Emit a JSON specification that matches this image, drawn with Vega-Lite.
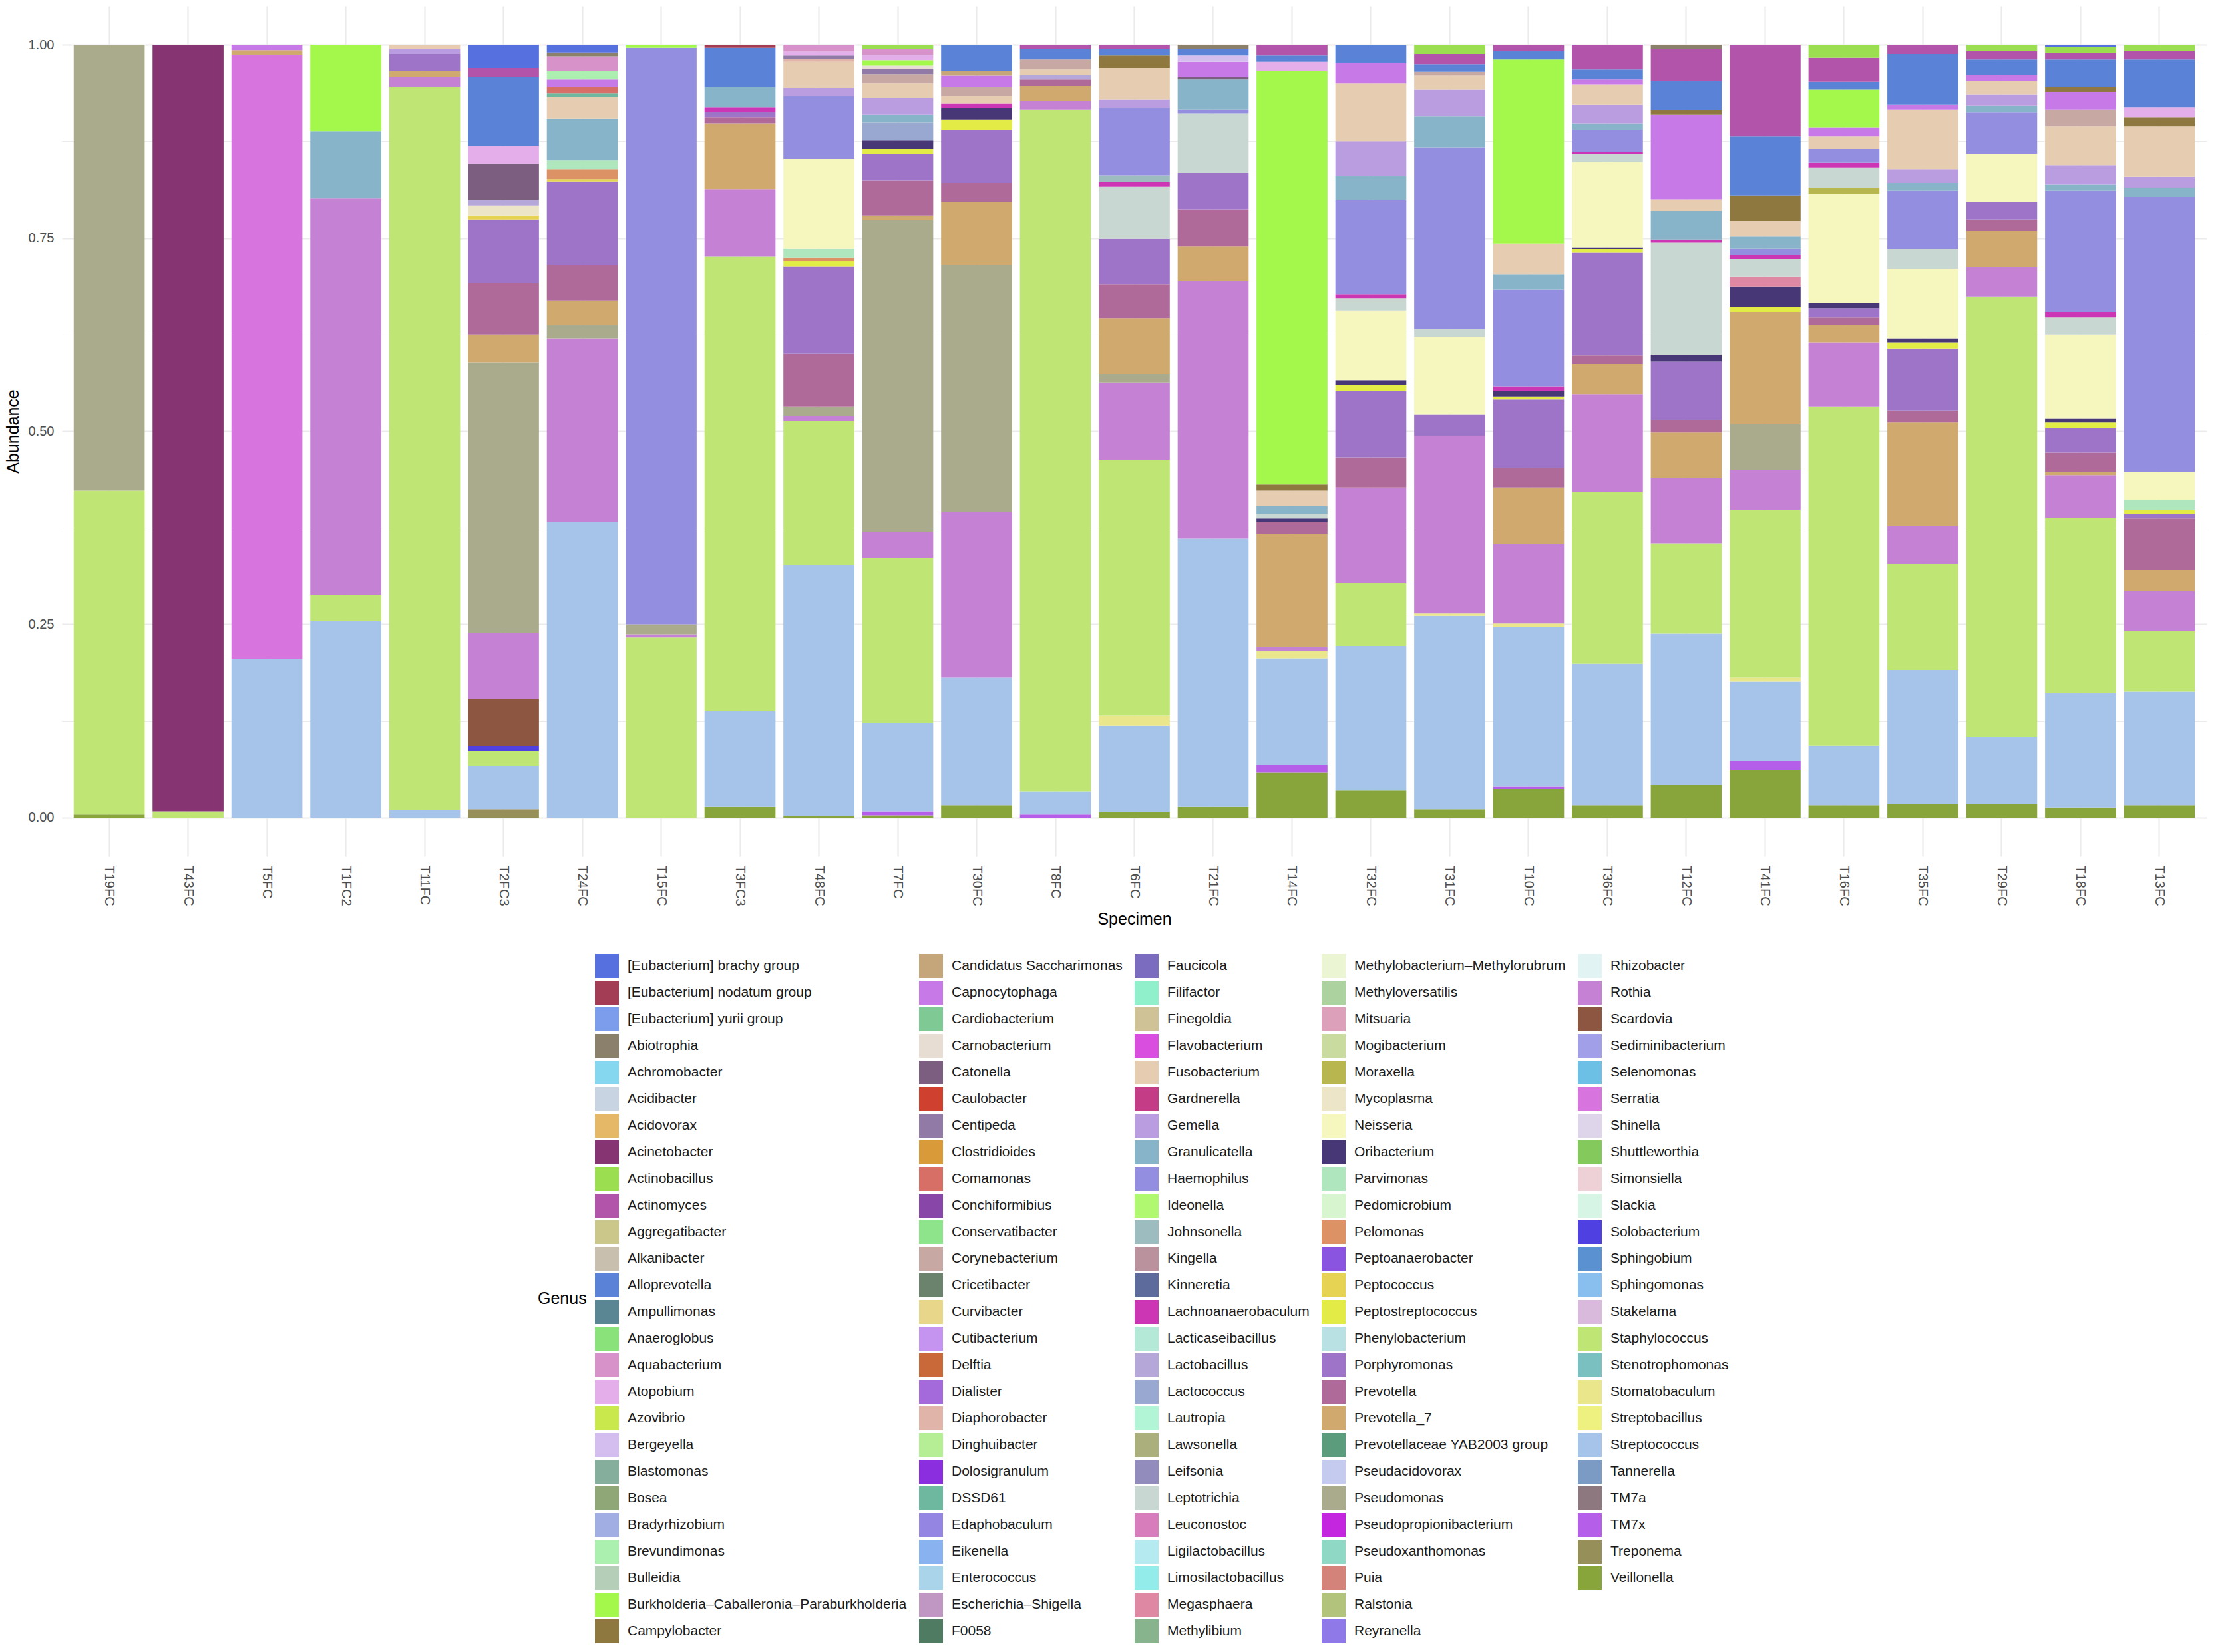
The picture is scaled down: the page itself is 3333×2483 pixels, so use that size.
{
  "$schema": "https://vega.github.io/schema/vega-lite/v6.json",
  "width": 3223,
  "height": 1278,
  "autosize": {"type": "none"},
  "padding": {"left": 93, "top": 9, "right": 17, "bottom": 1196},
  "background": "white",
  "config": {"view": {"stroke": null}, "font": "Liberation Sans"},
  "data": {"values": [
    {"Specimen": "T19FC", "Genus": "Veillonella", "Abundance": 0.004},
    {"Specimen": "T19FC", "Genus": "Staphylococcus", "Abundance": 0.419},
    {"Specimen": "T19FC", "Genus": "Pseudomonas", "Abundance": 0.577},

    {"Specimen": "T43FC", "Genus": "Staphylococcus", "Abundance": 0.008},
    {"Specimen": "T43FC", "Genus": "Acinetobacter", "Abundance": 0.992},

    {"Specimen": "T5FC", "Genus": "Streptococcus", "Abundance": 0.205},
    {"Specimen": "T5FC", "Genus": "Serratia", "Abundance": 0.782},
    {"Specimen": "T5FC", "Genus": "Prevotella_7", "Abundance": 0.006},
    {"Specimen": "T5FC", "Genus": "Capnocytophaga", "Abundance": 0.007},

    {"Specimen": "T1FC2", "Genus": "Streptococcus", "Abundance": 0.254},
    {"Specimen": "T1FC2", "Genus": "Staphylococcus", "Abundance": 0.034},
    {"Specimen": "T1FC2", "Genus": "Rothia", "Abundance": 0.513},
    {"Specimen": "T1FC2", "Genus": "Granulicatella", "Abundance": 0.087},
    {"Specimen": "T1FC2", "Genus": "Burkholderia–Caballeronia–Paraburkholderia", "Abundance": 0.112},

    {"Specimen": "T11FC", "Genus": "Streptococcus", "Abundance": 0.010},
    {"Specimen": "T11FC", "Genus": "Staphylococcus", "Abundance": 0.935},
    {"Specimen": "T11FC", "Genus": "Rothia", "Abundance": 0.013},
    {"Specimen": "T11FC", "Genus": "Prevotella_7", "Abundance": 0.008},
    {"Specimen": "T11FC", "Genus": "Porphyromonas", "Abundance": 0.022},
    {"Specimen": "T11FC", "Genus": "Fusobacterium", "Abundance": 0.006},
    {"Specimen": "T11FC", "Genus": "Gemella", "Abundance": 0.006},

    {"Specimen": "T2FC3", "Genus": "Treponema", "Abundance": 0.011},
    {"Specimen": "T2FC3", "Genus": "Streptococcus", "Abundance": 0.056},
    {"Specimen": "T2FC3", "Genus": "Staphylococcus", "Abundance": 0.019},
    {"Specimen": "T2FC3", "Genus": "Solobacterium", "Abundance": 0.006},
    {"Specimen": "T2FC3", "Genus": "Scardovia", "Abundance": 0.062},
    {"Specimen": "T2FC3", "Genus": "Rothia", "Abundance": 0.085},
    {"Specimen": "T2FC3", "Genus": "Pseudomonas", "Abundance": 0.350},
    {"Specimen": "T2FC3", "Genus": "Prevotella_7", "Abundance": 0.036},
    {"Specimen": "T2FC3", "Genus": "Prevotella", "Abundance": 0.066},
    {"Specimen": "T2FC3", "Genus": "Porphyromonas", "Abundance": 0.083},
    {"Specimen": "T2FC3", "Genus": "Peptococcus", "Abundance": 0.005},
    {"Specimen": "T2FC3", "Genus": "Mycoplasma", "Abundance": 0.013},
    {"Specimen": "T2FC3", "Genus": "Lactobacillus", "Abundance": 0.007},
    {"Specimen": "T2FC3", "Genus": "Catonella", "Abundance": 0.047},
    {"Specimen": "T2FC3", "Genus": "Atopobium", "Abundance": 0.023},
    {"Specimen": "T2FC3", "Genus": "Alloprevotella", "Abundance": 0.089},
    {"Specimen": "T2FC3", "Genus": "Actinomyces", "Abundance": 0.012},
    {"Specimen": "T2FC3", "Genus": "[Eubacterium] brachy group", "Abundance": 0.030},

    {"Specimen": "T24FC", "Genus": "Streptococcus", "Abundance": 0.383},
    {"Specimen": "T24FC", "Genus": "Rothia", "Abundance": 0.237},
    {"Specimen": "T24FC", "Genus": "Pseudomonas", "Abundance": 0.017},
    {"Specimen": "T24FC", "Genus": "Prevotella_7", "Abundance": 0.032},
    {"Specimen": "T24FC", "Genus": "Prevotella", "Abundance": 0.046},
    {"Specimen": "T24FC", "Genus": "Porphyromonas", "Abundance": 0.108},
    {"Specimen": "T24FC", "Genus": "Peptococcus", "Abundance": 0.003},
    {"Specimen": "T24FC", "Genus": "Pelomonas", "Abundance": 0.013},
    {"Specimen": "T24FC", "Genus": "Parvimonas", "Abundance": 0.011},
    {"Specimen": "T24FC", "Genus": "Granulicatella", "Abundance": 0.054},
    {"Specimen": "T24FC", "Genus": "Fusobacterium", "Abundance": 0.028},
    {"Specimen": "T24FC", "Genus": "DSSD61", "Abundance": 0.005},
    {"Specimen": "T24FC", "Genus": "Comamonas", "Abundance": 0.008},
    {"Specimen": "T24FC", "Genus": "Capnocytophaga", "Abundance": 0.010},
    {"Specimen": "T24FC", "Genus": "Brevundimonas", "Abundance": 0.011},
    {"Specimen": "T24FC", "Genus": "Aquabacterium", "Abundance": 0.019},
    {"Specimen": "T24FC", "Genus": "Abiotrophia", "Abundance": 0.005},
    {"Specimen": "T24FC", "Genus": "[Eubacterium] brachy group", "Abundance": 0.010},

    {"Specimen": "T15FC", "Genus": "Staphylococcus", "Abundance": 0.233},
    {"Specimen": "T15FC", "Genus": "Rothia", "Abundance": 0.004},
    {"Specimen": "T15FC", "Genus": "Pseudomonas", "Abundance": 0.013},
    {"Specimen": "T15FC", "Genus": "Haemophilus", "Abundance": 0.746},
    {"Specimen": "T15FC", "Genus": "Burkholderia–Caballeronia–Paraburkholderia", "Abundance": 0.004},

    {"Specimen": "T3FC3", "Genus": "Veillonella", "Abundance": 0.014},
    {"Specimen": "T3FC3", "Genus": "Streptococcus", "Abundance": 0.124},
    {"Specimen": "T3FC3", "Genus": "Staphylococcus", "Abundance": 0.588},
    {"Specimen": "T3FC3", "Genus": "Rothia", "Abundance": 0.087},
    {"Specimen": "T3FC3", "Genus": "Prevotella_7", "Abundance": 0.085},
    {"Specimen": "T3FC3", "Genus": "Prevotella", "Abundance": 0.008},
    {"Specimen": "T3FC3", "Genus": "Porphyromonas", "Abundance": 0.007},
    {"Specimen": "T3FC3", "Genus": "Lachnoanaerobaculum", "Abundance": 0.006},
    {"Specimen": "T3FC3", "Genus": "Granulicatella", "Abundance": 0.026},
    {"Specimen": "T3FC3", "Genus": "Alloprevotella", "Abundance": 0.051},
    {"Specimen": "T3FC3", "Genus": "[Eubacterium] nodatum group", "Abundance": 0.004},

    {"Specimen": "T48FC", "Genus": "Veillonella", "Abundance": 0.002},
    {"Specimen": "T48FC", "Genus": "Streptococcus", "Abundance": 0.325},
    {"Specimen": "T48FC", "Genus": "Staphylococcus", "Abundance": 0.186},
    {"Specimen": "T48FC", "Genus": "Rothia", "Abundance": 0.006},
    {"Specimen": "T48FC", "Genus": "Pseudomonas", "Abundance": 0.013},
    {"Specimen": "T48FC", "Genus": "Prevotella", "Abundance": 0.068},
    {"Specimen": "T48FC", "Genus": "Porphyromonas", "Abundance": 0.113},
    {"Specimen": "T48FC", "Genus": "Peptostreptococcus", "Abundance": 0.007},
    {"Specimen": "T48FC", "Genus": "Pelomonas", "Abundance": 0.004},
    {"Specimen": "T48FC", "Genus": "Parvimonas", "Abundance": 0.012},
    {"Specimen": "T48FC", "Genus": "Neisseria", "Abundance": 0.116},
    {"Specimen": "T48FC", "Genus": "Haemophilus", "Abundance": 0.081},
    {"Specimen": "T48FC", "Genus": "Gemella", "Abundance": 0.011},
    {"Specimen": "T48FC", "Genus": "Fusobacterium", "Abundance": 0.034},
    {"Specimen": "T48FC", "Genus": "Diaphorobacter", "Abundance": 0.004},
    {"Specimen": "T48FC", "Genus": "Centipeda", "Abundance": 0.004},
    {"Specimen": "T48FC", "Genus": "Atopobium", "Abundance": 0.005},
    {"Specimen": "T48FC", "Genus": "Aquabacterium", "Abundance": 0.009},

    {"Specimen": "T7FC", "Genus": "Veillonella", "Abundance": 0.003},
    {"Specimen": "T7FC", "Genus": "TM7x", "Abundance": 0.005},
    {"Specimen": "T7FC", "Genus": "Streptococcus", "Abundance": 0.115},
    {"Specimen": "T7FC", "Genus": "Staphylococcus", "Abundance": 0.213},
    {"Specimen": "T7FC", "Genus": "Rothia", "Abundance": 0.034},
    {"Specimen": "T7FC", "Genus": "Pseudomonas", "Abundance": 0.403},
    {"Specimen": "T7FC", "Genus": "Prevotella_7", "Abundance": 0.006},
    {"Specimen": "T7FC", "Genus": "Prevotella", "Abundance": 0.045},
    {"Specimen": "T7FC", "Genus": "Porphyromonas", "Abundance": 0.034},
    {"Specimen": "T7FC", "Genus": "Peptostreptococcus", "Abundance": 0.007},
    {"Specimen": "T7FC", "Genus": "Oribacterium", "Abundance": 0.011},
    {"Specimen": "T7FC", "Genus": "Lactococcus", "Abundance": 0.023},
    {"Specimen": "T7FC", "Genus": "Granulicatella", "Abundance": 0.010},
    {"Specimen": "T7FC", "Genus": "Gemella", "Abundance": 0.022},
    {"Specimen": "T7FC", "Genus": "Fusobacterium", "Abundance": 0.019},
    {"Specimen": "T7FC", "Genus": "Corynebacterium", "Abundance": 0.012},
    {"Specimen": "T7FC", "Genus": "Centipeda", "Abundance": 0.007},
    {"Specimen": "T7FC", "Genus": "Carnobacterium", "Abundance": 0.004},
    {"Specimen": "T7FC", "Genus": "Burkholderia–Caballeronia–Paraburkholderia", "Abundance": 0.007},
    {"Specimen": "T7FC", "Genus": "Atopobium", "Abundance": 0.007},
    {"Specimen": "T7FC", "Genus": "Aquabacterium", "Abundance": 0.007},
    {"Specimen": "T7FC", "Genus": "Actinobacillus", "Abundance": 0.006},

    {"Specimen": "T30FC", "Genus": "Veillonella", "Abundance": 0.016},
    {"Specimen": "T30FC", "Genus": "Streptococcus", "Abundance": 0.165},
    {"Specimen": "T30FC", "Genus": "Rothia", "Abundance": 0.214},
    {"Specimen": "T30FC", "Genus": "Pseudomonas", "Abundance": 0.320},
    {"Specimen": "T30FC", "Genus": "Prevotella_7", "Abundance": 0.082},
    {"Specimen": "T30FC", "Genus": "Prevotella", "Abundance": 0.024},
    {"Specimen": "T30FC", "Genus": "Porphyromonas", "Abundance": 0.069},
    {"Specimen": "T30FC", "Genus": "Peptostreptococcus", "Abundance": 0.013},
    {"Specimen": "T30FC", "Genus": "Oribacterium", "Abundance": 0.015},
    {"Specimen": "T30FC", "Genus": "Lachnoanaerobaculum", "Abundance": 0.006},
    {"Specimen": "T30FC", "Genus": "Fusobacterium", "Abundance": 0.009},
    {"Specimen": "T30FC", "Genus": "Corynebacterium", "Abundance": 0.012},
    {"Specimen": "T30FC", "Genus": "Capnocytophaga", "Abundance": 0.015},
    {"Specimen": "T30FC", "Genus": "Candidatus Saccharimonas", "Abundance": 0.006},
    {"Specimen": "T30FC", "Genus": "Alloprevotella", "Abundance": 0.034},

    {"Specimen": "T8FC", "Genus": "TM7x", "Abundance": 0.004},
    {"Specimen": "T8FC", "Genus": "Streptococcus", "Abundance": 0.030},
    {"Specimen": "T8FC", "Genus": "Staphylococcus", "Abundance": 0.882},
    {"Specimen": "T8FC", "Genus": "Rothia", "Abundance": 0.011},
    {"Specimen": "T8FC", "Genus": "Prevotella_7", "Abundance": 0.019},
    {"Specimen": "T8FC", "Genus": "Prevotella", "Abundance": 0.009},
    {"Specimen": "T8FC", "Genus": "Lactobacillus", "Abundance": 0.006},
    {"Specimen": "T8FC", "Genus": "Fusobacterium", "Abundance": 0.007},
    {"Specimen": "T8FC", "Genus": "Corynebacterium", "Abundance": 0.013},
    {"Specimen": "T8FC", "Genus": "Alloprevotella", "Abundance": 0.013},
    {"Specimen": "T8FC", "Genus": "Actinomyces", "Abundance": 0.006},

    {"Specimen": "T6FC", "Genus": "Veillonella", "Abundance": 0.007},
    {"Specimen": "T6FC", "Genus": "Streptococcus", "Abundance": 0.112},
    {"Specimen": "T6FC", "Genus": "Stomatobaculum", "Abundance": 0.013},
    {"Specimen": "T6FC", "Genus": "Staphylococcus", "Abundance": 0.331},
    {"Specimen": "T6FC", "Genus": "Rothia", "Abundance": 0.100},
    {"Specimen": "T6FC", "Genus": "Pseudomonas", "Abundance": 0.011},
    {"Specimen": "T6FC", "Genus": "Prevotella_7", "Abundance": 0.072},
    {"Specimen": "T6FC", "Genus": "Prevotella", "Abundance": 0.044},
    {"Specimen": "T6FC", "Genus": "Porphyromonas", "Abundance": 0.059},
    {"Specimen": "T6FC", "Genus": "Leptotrichia", "Abundance": 0.067},
    {"Specimen": "T6FC", "Genus": "Lachnoanaerobaculum", "Abundance": 0.006},
    {"Specimen": "T6FC", "Genus": "Johnsonella", "Abundance": 0.009},
    {"Specimen": "T6FC", "Genus": "Haemophilus", "Abundance": 0.087},
    {"Specimen": "T6FC", "Genus": "Gemella", "Abundance": 0.011},
    {"Specimen": "T6FC", "Genus": "Fusobacterium", "Abundance": 0.041},
    {"Specimen": "T6FC", "Genus": "Campylobacter", "Abundance": 0.016},
    {"Specimen": "T6FC", "Genus": "Alloprevotella", "Abundance": 0.008},
    {"Specimen": "T6FC", "Genus": "Actinomyces", "Abundance": 0.006},

    {"Specimen": "T21FC", "Genus": "Veillonella", "Abundance": 0.014},
    {"Specimen": "T21FC", "Genus": "Streptococcus", "Abundance": 0.347},
    {"Specimen": "T21FC", "Genus": "Rothia", "Abundance": 0.333},
    {"Specimen": "T21FC", "Genus": "Prevotella_7", "Abundance": 0.045},
    {"Specimen": "T21FC", "Genus": "Prevotella", "Abundance": 0.048},
    {"Specimen": "T21FC", "Genus": "Porphyromonas", "Abundance": 0.047},
    {"Specimen": "T21FC", "Genus": "Leptotrichia", "Abundance": 0.077},
    {"Specimen": "T21FC", "Genus": "Haemophilus", "Abundance": 0.005},
    {"Specimen": "T21FC", "Genus": "Granulicatella", "Abundance": 0.039},
    {"Specimen": "T21FC", "Genus": "Catonella", "Abundance": 0.003},
    {"Specimen": "T21FC", "Genus": "Capnocytophaga", "Abundance": 0.020},
    {"Specimen": "T21FC", "Genus": "Bergeyella", "Abundance": 0.008},
    {"Specimen": "T21FC", "Genus": "Alloprevotella", "Abundance": 0.008},
    {"Specimen": "T21FC", "Genus": "Abiotrophia", "Abundance": 0.006},

    {"Specimen": "T14FC", "Genus": "Veillonella", "Abundance": 0.058},
    {"Specimen": "T14FC", "Genus": "TM7x", "Abundance": 0.010},
    {"Specimen": "T14FC", "Genus": "Streptococcus", "Abundance": 0.138},
    {"Specimen": "T14FC", "Genus": "Stomatobaculum", "Abundance": 0.009},
    {"Specimen": "T14FC", "Genus": "Rothia", "Abundance": 0.006},
    {"Specimen": "T14FC", "Genus": "Prevotella_7", "Abundance": 0.146},
    {"Specimen": "T14FC", "Genus": "Prevotella", "Abundance": 0.015},
    {"Specimen": "T14FC", "Genus": "Oribacterium", "Abundance": 0.005},
    {"Specimen": "T14FC", "Genus": "Leptotrichia", "Abundance": 0.006},
    {"Specimen": "T14FC", "Genus": "Granulicatella", "Abundance": 0.010},
    {"Specimen": "T14FC", "Genus": "Fusobacterium", "Abundance": 0.020},
    {"Specimen": "T14FC", "Genus": "Campylobacter", "Abundance": 0.008},
    {"Specimen": "T14FC", "Genus": "Burkholderia–Caballeronia–Paraburkholderia", "Abundance": 0.535},
    {"Specimen": "T14FC", "Genus": "Atopobium", "Abundance": 0.012},
    {"Specimen": "T14FC", "Genus": "Alloprevotella", "Abundance": 0.008},
    {"Specimen": "T14FC", "Genus": "Actinomyces", "Abundance": 0.014},

    {"Specimen": "T32FC", "Genus": "Veillonella", "Abundance": 0.035},
    {"Specimen": "T32FC", "Genus": "Streptococcus", "Abundance": 0.187},
    {"Specimen": "T32FC", "Genus": "Staphylococcus", "Abundance": 0.081},
    {"Specimen": "T32FC", "Genus": "Rothia", "Abundance": 0.124},
    {"Specimen": "T32FC", "Genus": "Prevotella", "Abundance": 0.039},
    {"Specimen": "T32FC", "Genus": "Porphyromonas", "Abundance": 0.086},
    {"Specimen": "T32FC", "Genus": "Peptostreptococcus", "Abundance": 0.008},
    {"Specimen": "T32FC", "Genus": "Oribacterium", "Abundance": 0.006},
    {"Specimen": "T32FC", "Genus": "Neisseria", "Abundance": 0.090},
    {"Specimen": "T32FC", "Genus": "Leptotrichia", "Abundance": 0.016},
    {"Specimen": "T32FC", "Genus": "Lachnoanaerobaculum", "Abundance": 0.005},
    {"Specimen": "T32FC", "Genus": "Haemophilus", "Abundance": 0.122},
    {"Specimen": "T32FC", "Genus": "Granulicatella", "Abundance": 0.031},
    {"Specimen": "T32FC", "Genus": "Gemella", "Abundance": 0.045},
    {"Specimen": "T32FC", "Genus": "Fusobacterium", "Abundance": 0.075},
    {"Specimen": "T32FC", "Genus": "Capnocytophaga", "Abundance": 0.026},
    {"Specimen": "T32FC", "Genus": "Alloprevotella", "Abundance": 0.024},

    {"Specimen": "T31FC", "Genus": "Veillonella", "Abundance": 0.011},
    {"Specimen": "T31FC", "Genus": "Streptococcus", "Abundance": 0.250},
    {"Specimen": "T31FC", "Genus": "Stomatobaculum", "Abundance": 0.003},
    {"Specimen": "T31FC", "Genus": "Rothia", "Abundance": 0.230},
    {"Specimen": "T31FC", "Genus": "Porphyromonas", "Abundance": 0.027},
    {"Specimen": "T31FC", "Genus": "Neisseria", "Abundance": 0.101},
    {"Specimen": "T31FC", "Genus": "Leptotrichia", "Abundance": 0.010},
    {"Specimen": "T31FC", "Genus": "Haemophilus", "Abundance": 0.235},
    {"Specimen": "T31FC", "Genus": "Granulicatella", "Abundance": 0.040},
    {"Specimen": "T31FC", "Genus": "Gemella", "Abundance": 0.035},
    {"Specimen": "T31FC", "Genus": "Fusobacterium", "Abundance": 0.018},
    {"Specimen": "T31FC", "Genus": "Corynebacterium", "Abundance": 0.005},
    {"Specimen": "T31FC", "Genus": "Alloprevotella", "Abundance": 0.010},
    {"Specimen": "T31FC", "Genus": "Actinomyces", "Abundance": 0.013},
    {"Specimen": "T31FC", "Genus": "Actinobacillus", "Abundance": 0.012},

    {"Specimen": "T10FC", "Genus": "Veillonella", "Abundance": 0.037},
    {"Specimen": "T10FC", "Genus": "TM7x", "Abundance": 0.003},
    {"Specimen": "T10FC", "Genus": "Streptococcus", "Abundance": 0.206},
    {"Specimen": "T10FC", "Genus": "Stomatobaculum", "Abundance": 0.005},
    {"Specimen": "T10FC", "Genus": "Rothia", "Abundance": 0.103},
    {"Specimen": "T10FC", "Genus": "Prevotella_7", "Abundance": 0.073},
    {"Specimen": "T10FC", "Genus": "Prevotella", "Abundance": 0.025},
    {"Specimen": "T10FC", "Genus": "Porphyromonas", "Abundance": 0.089},
    {"Specimen": "T10FC", "Genus": "Peptostreptococcus", "Abundance": 0.004},
    {"Specimen": "T10FC", "Genus": "Oribacterium", "Abundance": 0.007},
    {"Specimen": "T10FC", "Genus": "Lachnoanaerobaculum", "Abundance": 0.006},
    {"Specimen": "T10FC", "Genus": "Haemophilus", "Abundance": 0.125},
    {"Specimen": "T10FC", "Genus": "Granulicatella", "Abundance": 0.020},
    {"Specimen": "T10FC", "Genus": "Fusobacterium", "Abundance": 0.040},
    {"Specimen": "T10FC", "Genus": "Burkholderia–Caballeronia–Paraburkholderia", "Abundance": 0.238},
    {"Specimen": "T10FC", "Genus": "Alloprevotella", "Abundance": 0.011},
    {"Specimen": "T10FC", "Genus": "Actinomyces", "Abundance": 0.008},

    {"Specimen": "T36FC", "Genus": "Veillonella", "Abundance": 0.016},
    {"Specimen": "T36FC", "Genus": "Streptococcus", "Abundance": 0.183},
    {"Specimen": "T36FC", "Genus": "Staphylococcus", "Abundance": 0.222},
    {"Specimen": "T36FC", "Genus": "Rothia", "Abundance": 0.127},
    {"Specimen": "T36FC", "Genus": "Prevotella_7", "Abundance": 0.039},
    {"Specimen": "T36FC", "Genus": "Prevotella", "Abundance": 0.011},
    {"Specimen": "T36FC", "Genus": "Porphyromonas", "Abundance": 0.133},
    {"Specimen": "T36FC", "Genus": "Peptostreptococcus", "Abundance": 0.004},
    {"Specimen": "T36FC", "Genus": "Oribacterium", "Abundance": 0.003},
    {"Specimen": "T36FC", "Genus": "Neisseria", "Abundance": 0.110},
    {"Specimen": "T36FC", "Genus": "Leptotrichia", "Abundance": 0.010},
    {"Specimen": "T36FC", "Genus": "Lachnoanaerobaculum", "Abundance": 0.003},
    {"Specimen": "T36FC", "Genus": "Haemophilus", "Abundance": 0.029},
    {"Specimen": "T36FC", "Genus": "Granulicatella", "Abundance": 0.008},
    {"Specimen": "T36FC", "Genus": "Gemella", "Abundance": 0.024},
    {"Specimen": "T36FC", "Genus": "Fusobacterium", "Abundance": 0.026},
    {"Specimen": "T36FC", "Genus": "Capnocytophaga", "Abundance": 0.007},
    {"Specimen": "T36FC", "Genus": "Alloprevotella", "Abundance": 0.013},
    {"Specimen": "T36FC", "Genus": "Actinomyces", "Abundance": 0.032},

    {"Specimen": "T12FC", "Genus": "Veillonella", "Abundance": 0.042},
    {"Specimen": "T12FC", "Genus": "Streptococcus", "Abundance": 0.196},
    {"Specimen": "T12FC", "Genus": "Staphylococcus", "Abundance": 0.117},
    {"Specimen": "T12FC", "Genus": "Rothia", "Abundance": 0.084},
    {"Specimen": "T12FC", "Genus": "Prevotella_7", "Abundance": 0.059},
    {"Specimen": "T12FC", "Genus": "Prevotella", "Abundance": 0.016},
    {"Specimen": "T12FC", "Genus": "Porphyromonas", "Abundance": 0.076},
    {"Specimen": "T12FC", "Genus": "Oribacterium", "Abundance": 0.009},
    {"Specimen": "T12FC", "Genus": "Leptotrichia", "Abundance": 0.145},
    {"Specimen": "T12FC", "Genus": "Lachnoanaerobaculum", "Abundance": 0.004},
    {"Specimen": "T12FC", "Genus": "Granulicatella", "Abundance": 0.037},
    {"Specimen": "T12FC", "Genus": "Fusobacterium", "Abundance": 0.015},
    {"Specimen": "T12FC", "Genus": "Capnocytophaga", "Abundance": 0.109},
    {"Specimen": "T12FC", "Genus": "Campylobacter", "Abundance": 0.006},
    {"Specimen": "T12FC", "Genus": "Alloprevotella", "Abundance": 0.038},
    {"Specimen": "T12FC", "Genus": "Actinomyces", "Abundance": 0.041},
    {"Specimen": "T12FC", "Genus": "Abiotrophia", "Abundance": 0.006},

    {"Specimen": "T41FC", "Genus": "Veillonella", "Abundance": 0.062},
    {"Specimen": "T41FC", "Genus": "TM7x", "Abundance": 0.011},
    {"Specimen": "T41FC", "Genus": "Streptococcus", "Abundance": 0.103},
    {"Specimen": "T41FC", "Genus": "Stomatobaculum", "Abundance": 0.005},
    {"Specimen": "T41FC", "Genus": "Staphylococcus", "Abundance": 0.217},
    {"Specimen": "T41FC", "Genus": "Rothia", "Abundance": 0.052},
    {"Specimen": "T41FC", "Genus": "Pseudomonas", "Abundance": 0.059},
    {"Specimen": "T41FC", "Genus": "Prevotella_7", "Abundance": 0.145},
    {"Specimen": "T41FC", "Genus": "Peptostreptococcus", "Abundance": 0.007},
    {"Specimen": "T41FC", "Genus": "Oribacterium", "Abundance": 0.026},
    {"Specimen": "T41FC", "Genus": "Megasphaera", "Abundance": 0.013},
    {"Specimen": "T41FC", "Genus": "Leptotrichia", "Abundance": 0.023},
    {"Specimen": "T41FC", "Genus": "Lachnoanaerobaculum", "Abundance": 0.005},
    {"Specimen": "T41FC", "Genus": "Haemophilus", "Abundance": 0.008},
    {"Specimen": "T41FC", "Genus": "Granulicatella", "Abundance": 0.016},
    {"Specimen": "T41FC", "Genus": "Fusobacterium", "Abundance": 0.020},
    {"Specimen": "T41FC", "Genus": "Campylobacter", "Abundance": 0.033},
    {"Specimen": "T41FC", "Genus": "Alloprevotella", "Abundance": 0.076},
    {"Specimen": "T41FC", "Genus": "Actinomyces", "Abundance": 0.119},

    {"Specimen": "T16FC", "Genus": "Veillonella", "Abundance": 0.016},
    {"Specimen": "T16FC", "Genus": "Streptococcus", "Abundance": 0.077},
    {"Specimen": "T16FC", "Genus": "Staphylococcus", "Abundance": 0.439},
    {"Specimen": "T16FC", "Genus": "Rothia", "Abundance": 0.083},
    {"Specimen": "T16FC", "Genus": "Prevotella_7", "Abundance": 0.022},
    {"Specimen": "T16FC", "Genus": "Prevotella", "Abundance": 0.010},
    {"Specimen": "T16FC", "Genus": "Porphyromonas", "Abundance": 0.012},
    {"Specimen": "T16FC", "Genus": "Oribacterium", "Abundance": 0.007},
    {"Specimen": "T16FC", "Genus": "Neisseria", "Abundance": 0.141},
    {"Specimen": "T16FC", "Genus": "Moraxella", "Abundance": 0.008},
    {"Specimen": "T16FC", "Genus": "Leptotrichia", "Abundance": 0.026},
    {"Specimen": "T16FC", "Genus": "Lachnoanaerobaculum", "Abundance": 0.006},
    {"Specimen": "T16FC", "Genus": "Haemophilus", "Abundance": 0.018},
    {"Specimen": "T16FC", "Genus": "Fusobacterium", "Abundance": 0.016},
    {"Specimen": "T16FC", "Genus": "Capnocytophaga", "Abundance": 0.012},
    {"Specimen": "T16FC", "Genus": "Burkholderia–Caballeronia–Paraburkholderia", "Abundance": 0.049},
    {"Specimen": "T16FC", "Genus": "Alloprevotella", "Abundance": 0.010},
    {"Specimen": "T16FC", "Genus": "Actinomyces", "Abundance": 0.031},
    {"Specimen": "T16FC", "Genus": "Actinobacillus", "Abundance": 0.017},

    {"Specimen": "T35FC", "Genus": "Veillonella", "Abundance": 0.018},
    {"Specimen": "T35FC", "Genus": "Streptococcus", "Abundance": 0.173},
    {"Specimen": "T35FC", "Genus": "Staphylococcus", "Abundance": 0.137},
    {"Specimen": "T35FC", "Genus": "Rothia", "Abundance": 0.049},
    {"Specimen": "T35FC", "Genus": "Prevotella_7", "Abundance": 0.134},
    {"Specimen": "T35FC", "Genus": "Prevotella", "Abundance": 0.016},
    {"Specimen": "T35FC", "Genus": "Porphyromonas", "Abundance": 0.080},
    {"Specimen": "T35FC", "Genus": "Peptostreptococcus", "Abundance": 0.008},
    {"Specimen": "T35FC", "Genus": "Oribacterium", "Abundance": 0.005},
    {"Specimen": "T35FC", "Genus": "Neisseria", "Abundance": 0.090},
    {"Specimen": "T35FC", "Genus": "Leptotrichia", "Abundance": 0.025},
    {"Specimen": "T35FC", "Genus": "Haemophilus", "Abundance": 0.076},
    {"Specimen": "T35FC", "Genus": "Granulicatella", "Abundance": 0.010},
    {"Specimen": "T35FC", "Genus": "Gemella", "Abundance": 0.018},
    {"Specimen": "T35FC", "Genus": "Fusobacterium", "Abundance": 0.077},
    {"Specimen": "T35FC", "Genus": "Capnocytophaga", "Abundance": 0.006},
    {"Specimen": "T35FC", "Genus": "Alloprevotella", "Abundance": 0.066},
    {"Specimen": "T35FC", "Genus": "Actinomyces", "Abundance": 0.012},

    {"Specimen": "T29FC", "Genus": "Veillonella", "Abundance": 0.018},
    {"Specimen": "T29FC", "Genus": "Streptococcus", "Abundance": 0.087},
    {"Specimen": "T29FC", "Genus": "Staphylococcus", "Abundance": 0.569},
    {"Specimen": "T29FC", "Genus": "Rothia", "Abundance": 0.038},
    {"Specimen": "T29FC", "Genus": "Prevotella_7", "Abundance": 0.047},
    {"Specimen": "T29FC", "Genus": "Prevotella", "Abundance": 0.015},
    {"Specimen": "T29FC", "Genus": "Porphyromonas", "Abundance": 0.022},
    {"Specimen": "T29FC", "Genus": "Neisseria", "Abundance": 0.063},
    {"Specimen": "T29FC", "Genus": "Haemophilus", "Abundance": 0.053},
    {"Specimen": "T29FC", "Genus": "Granulicatella", "Abundance": 0.009},
    {"Specimen": "T29FC", "Genus": "Gemella", "Abundance": 0.014},
    {"Specimen": "T29FC", "Genus": "Fusobacterium", "Abundance": 0.018},
    {"Specimen": "T29FC", "Genus": "Capnocytophaga", "Abundance": 0.008},
    {"Specimen": "T29FC", "Genus": "Alloprevotella", "Abundance": 0.020},
    {"Specimen": "T29FC", "Genus": "Actinomyces", "Abundance": 0.011},
    {"Specimen": "T29FC", "Genus": "Actinobacillus", "Abundance": 0.008},

    {"Specimen": "T18FC", "Genus": "Veillonella", "Abundance": 0.013},
    {"Specimen": "T18FC", "Genus": "Streptococcus", "Abundance": 0.148},
    {"Specimen": "T18FC", "Genus": "Staphylococcus", "Abundance": 0.227},
    {"Specimen": "T18FC", "Genus": "Rothia", "Abundance": 0.055},
    {"Specimen": "T18FC", "Genus": "Prevotella_7", "Abundance": 0.004},
    {"Specimen": "T18FC", "Genus": "Prevotella", "Abundance": 0.025},
    {"Specimen": "T18FC", "Genus": "Porphyromonas", "Abundance": 0.032},
    {"Specimen": "T18FC", "Genus": "Peptostreptococcus", "Abundance": 0.007},
    {"Specimen": "T18FC", "Genus": "Oribacterium", "Abundance": 0.005},
    {"Specimen": "T18FC", "Genus": "Neisseria", "Abundance": 0.109},
    {"Specimen": "T18FC", "Genus": "Leptotrichia", "Abundance": 0.022},
    {"Specimen": "T18FC", "Genus": "Lachnoanaerobaculum", "Abundance": 0.007},
    {"Specimen": "T18FC", "Genus": "Haemophilus", "Abundance": 0.157},
    {"Specimen": "T18FC", "Genus": "Granulicatella", "Abundance": 0.008},
    {"Specimen": "T18FC", "Genus": "Gemella", "Abundance": 0.025},
    {"Specimen": "T18FC", "Genus": "Fusobacterium", "Abundance": 0.050},
    {"Specimen": "T18FC", "Genus": "Corynebacterium", "Abundance": 0.022},
    {"Specimen": "T18FC", "Genus": "Capnocytophaga", "Abundance": 0.023},
    {"Specimen": "T18FC", "Genus": "Campylobacter", "Abundance": 0.006},
    {"Specimen": "T18FC", "Genus": "Alloprevotella", "Abundance": 0.036},
    {"Specimen": "T18FC", "Genus": "Actinomyces", "Abundance": 0.008},
    {"Specimen": "T18FC", "Genus": "Actinobacillus", "Abundance": 0.008},
    {"Specimen": "T18FC", "Genus": "[Eubacterium] brachy group", "Abundance": 0.003},

    {"Specimen": "T13FC", "Genus": "Veillonella", "Abundance": 0.016},
    {"Specimen": "T13FC", "Genus": "Streptococcus", "Abundance": 0.147},
    {"Specimen": "T13FC", "Genus": "Staphylococcus", "Abundance": 0.078},
    {"Specimen": "T13FC", "Genus": "Rothia", "Abundance": 0.052},
    {"Specimen": "T13FC", "Genus": "Prevotella_7", "Abundance": 0.028},
    {"Specimen": "T13FC", "Genus": "Prevotella", "Abundance": 0.066},
    {"Specimen": "T13FC", "Genus": "Porphyromonas", "Abundance": 0.006},
    {"Specimen": "T13FC", "Genus": "Peptostreptococcus", "Abundance": 0.005},
    {"Specimen": "T13FC", "Genus": "Parvimonas", "Abundance": 0.013},
    {"Specimen": "T13FC", "Genus": "Neisseria", "Abundance": 0.036},
    {"Specimen": "T13FC", "Genus": "Haemophilus", "Abundance": 0.356},
    {"Specimen": "T13FC", "Genus": "Granulicatella", "Abundance": 0.012},
    {"Specimen": "T13FC", "Genus": "Gemella", "Abundance": 0.014},
    {"Specimen": "T13FC", "Genus": "Fusobacterium", "Abundance": 0.065},
    {"Specimen": "T13FC", "Genus": "Campylobacter", "Abundance": 0.012},
    {"Specimen": "T13FC", "Genus": "Atopobium", "Abundance": 0.013},
    {"Specimen": "T13FC", "Genus": "Alloprevotella", "Abundance": 0.062},
    {"Specimen": "T13FC", "Genus": "Actinomyces", "Abundance": 0.011},
    {"Specimen": "T13FC", "Genus": "Actinobacillus", "Abundance": 0.008}
  ]},
  "transform": [
    {"calculate": "(indexof(datum.Genus, '[') == 0 ? ' ' : '') + lower(datum.Genus)", "as": "stackKey"}
  ],
  "mark": {"type": "bar"},
  "encoding": {
    "x": {
      "field": "Specimen",
      "type": "nominal",
      "sort": ["T19FC", "T43FC", "T5FC", "T1FC2", "T11FC", "T2FC3", "T24FC", "T15FC", "T3FC3", "T48FC", "T7FC", "T30FC", "T8FC", "T6FC", "T21FC", "T14FC", "T32FC", "T31FC", "T10FC", "T36FC", "T12FC", "T41FC", "T16FC", "T35FC", "T29FC", "T18FC", "T13FC"],
      "scale": {"paddingInner": 0.1, "paddingOuter": 0.15},
      "axis": {
        "title": "Specimen",
        "titleFontSize": 25,
        "titleFontWeight": "normal",
        "titleColor": "#000000",
        "titlePadding": 8,
        "labelAngle": 90,
        "labelAlign": "left",
        "labelBaseline": "middle",
        "labelFontSize": 20,
        "labelColor": "#4D4D4D",
        "labelPadding": 13,
        "ticks": false,
        "domain": false,
        "grid": true,
        "bandPosition": 0.5,
        "gridColor": "#EBEBEB",
        "gridWidth": 2.2
      }
    },
    "y": {
      "field": "Abundance",
      "type": "quantitative",
      "stack": "zero",
      "scale": {"domain": [-0.05, 1.05], "nice": false, "zero": false},
      "axis": {
        "title": "Abundance",
        "titleFontSize": 25,
        "titleFontWeight": "normal",
        "titleColor": "#000000",
        "titlePadding": 10,
        "values": [0, 0.125, 0.25, 0.375, 0.5, 0.625, 0.75, 0.875, 1],
        "labelExpr": "(datum.value * 8) % 2 == 0 ? format(datum.value, '.2f') : ''",
        "labelFontSize": 20,
        "labelColor": "#4D4D4D",
        "labelPadding": 12,
        "ticks": false,
        "domain": false,
        "grid": true,
        "gridColor": "#EBEBEB",
        "gridWidth": {"condition": {"test": "(datum.value * 8) % 2 != 0", "value": 1.1}, "value": 2.2}
      }
    },
    "color": {
      "field": "Genus",
      "type": "nominal",
      "scale": {
        "domain": [
          "[Eubacterium] brachy group", "[Eubacterium] nodatum group", "[Eubacterium] yurii group", "Abiotrophia", "Achromobacter",
          "Acidibacter", "Acidovorax", "Acinetobacter", "Actinobacillus", "Actinomyces",
          "Aggregatibacter", "Alkanibacter", "Alloprevotella", "Ampullimonas", "Anaeroglobus",
          "Aquabacterium", "Atopobium", "Azovibrio", "Bergeyella", "Blastomonas",
          "Bosea", "Bradyrhizobium", "Brevundimonas", "Bulleidia", "Burkholderia–Caballeronia–Paraburkholderia",
          "Campylobacter",
          "Candidatus Saccharimonas", "Capnocytophaga", "Cardiobacterium", "Carnobacterium", "Catonella",
          "Caulobacter", "Centipeda", "Clostridioides", "Comamonas", "Conchiformibius",
          "Conservatibacter", "Corynebacterium", "Cricetibacter", "Curvibacter", "Cutibacterium",
          "Delftia", "Dialister", "Diaphorobacter", "Dinghuibacter", "Dolosigranulum",
          "DSSD61", "Edaphobaculum", "Eikenella", "Enterococcus", "Escherichia–Shigella",
          "F0058",
          "Faucicola", "Filifactor", "Finegoldia", "Flavobacterium", "Fusobacterium",
          "Gardnerella", "Gemella", "Granulicatella", "Haemophilus", "Ideonella",
          "Johnsonella", "Kingella", "Kinneretia", "Lachnoanaerobaculum", "Lacticaseibacillus",
          "Lactobacillus", "Lactococcus", "Lautropia", "Lawsonella", "Leifsonia",
          "Leptotrichia", "Leuconostoc", "Ligilactobacillus", "Limosilactobacillus", "Megasphaera",
          "Methylibium",
          "Methylobacterium–Methylorubrum", "Methyloversatilis", "Mitsuaria", "Mogibacterium", "Moraxella",
          "Mycoplasma", "Neisseria", "Oribacterium", "Parvimonas", "Pedomicrobium",
          "Pelomonas", "Peptoanaerobacter", "Peptococcus", "Peptostreptococcus", "Phenylobacterium",
          "Porphyromonas", "Prevotella", "Prevotella_7", "Prevotellaceae YAB2003 group", "Pseudacidovorax",
          "Pseudomonas", "Pseudopropionibacterium", "Pseudoxanthomonas", "Puia", "Ralstonia",
          "Reyranella",
          "Rhizobacter", "Rothia", "Scardovia", "Sediminibacterium", "Selenomonas",
          "Serratia", "Shinella", "Shuttleworthia", "Simonsiella", "Slackia",
          "Solobacterium", "Sphingobium", "Sphingomonas", "Stakelama", "Staphylococcus",
          "Stenotrophomonas", "Stomatobaculum", "Streptobacillus", "Streptococcus", "Tannerella",
          "TM7a", "TM7x", "Treponema", "Veillonella", " "
        ],
        "range": [
          "#5770E0", "#A23D55", "#7C9CEC", "#8B806C", "#84D7EE",
          "#C9D4E2", "#E5B868", "#873472", "#9BDE4F", "#B354AB",
          "#CBC68A", "#C8BFAF", "#5A82D6", "#5A8693", "#8AE37A",
          "#D892CA", "#E3AEEA", "#C9E84B", "#D4BEF0", "#86AE9D",
          "#8FA676", "#A1AEE4", "#ACF0B0", "#B4CEB8", "#A3F84B",
          "#8E783F",
          "#C4A67A", "#C879E8", "#7FC995", "#E7DDD3", "#7C5F80",
          "#D0402E", "#917AA6", "#D99A3A", "#D86F66", "#8846A8",
          "#8EE48A", "#C8A8A2", "#6B836C", "#E8D78B", "#C593F0",
          "#C96838", "#A46ADC", "#E0B4A8", "#B6EE96", "#8A2EE0",
          "#6EB8A0", "#9585E3", "#88B3F0", "#AAD4EA", "#C096C2",
          "#4F7B63",
          "#7C6CC0", "#90F0CB", "#CFC296", "#D94EDE", "#E6CCB0",
          "#C43C86", "#BA9CE0", "#87B4C8", "#948EE0", "#B0F870",
          "#9CBCC0", "#BA929D", "#5C6B9C", "#CC36B4", "#B4E8D7",
          "#B5A8D8", "#99A8D0", "#B1F5D6", "#AAAF7B", "#928CBC",
          "#C8D7D2", "#D77DBB", "#B4EAF0", "#94ECEA", "#DE88A4",
          "#87B48D",
          "#EBF5D3", "#ACD29F", "#DDA0BA", "#C9DB9F", "#B8B74F",
          "#EDE5C8", "#F6F6BF", "#473776", "#AFE6BD", "#D7F6D0",
          "#DC9264", "#8A54E0", "#E7D353", "#E3EB47", "#B9E0E3",
          "#9D74C8", "#B06A99", "#CFA96D", "#5A9C7C", "#C4CBEF",
          "#AAAB8D", "#C326DE", "#8FD8C5", "#D4837A", "#B2C47B",
          "#8F79E9",
          "#E1F4F3", "#C582D4", "#8D5640", "#A19FE7", "#6CC0E6",
          "#D874DE", "#DFD5EA", "#83C95B", "#EDD1D6", "#D7F5E4",
          "#4F40E1", "#5A91D0", "#89BFEE", "#D9B9DC", "#BFE575",
          "#7AC0C1", "#EAE68B", "#EEF07F", "#A6C4E9", "#7B9BC5",
          "#8E7880", "#B55EE9", "#978F59", "#87A53B", "rgba(0,0,0,0)"
        ]
      },
      "legend": {
        "title": "Genus",
        "orient": "none",
        "legendX": 715,
        "legendY": 1425,
        "columns": 5,
        "symbolLimit": 500,
        "gridAlign": "each",
        "columnPadding": 18,
        "rowPadding": 4,
        "padding": 0,
        "symbolType": "square",
        "symbolSize": 1296,
        "symbolStrokeWidth": 0,
        "symbolOpacity": 1,
        "labelFontSize": 21,
        "labelColor": "#1A1A1A",
        "labelOffset": 13,
        "labelLimit": 700,
        "titleOrient": "left",
        "titleAnchor": "middle",
        "titleBaseline": "middle",
        "titleFontSize": 25,
        "titleFontWeight": "normal",
        "titleColor": "#000000",
        "titlePadding": 12
      }
    },
    "order": {"field": "stackKey", "sort": "descending"}
  }
}
